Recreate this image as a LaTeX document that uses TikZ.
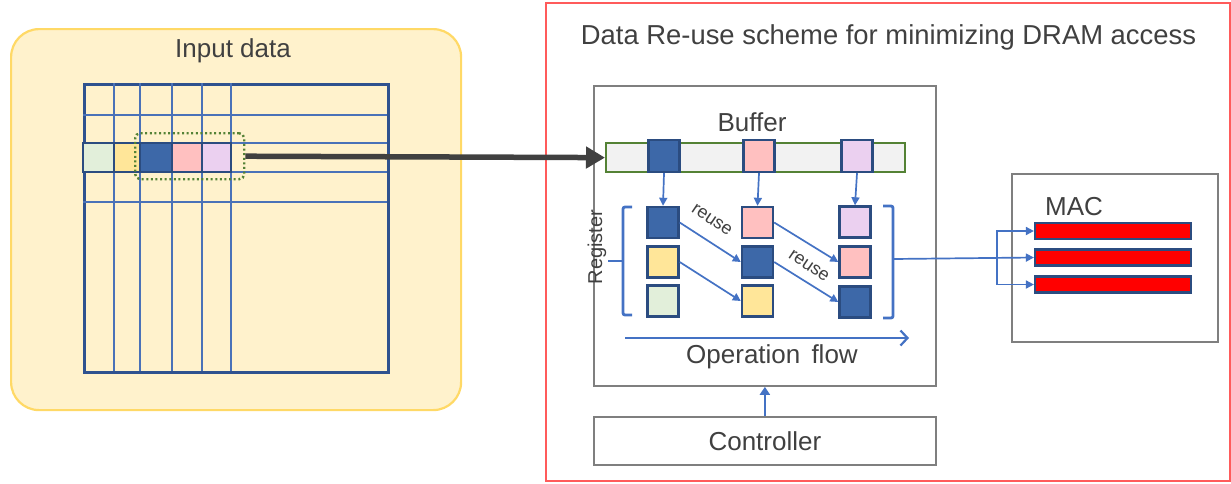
\documentclass[tikz,border=0pt]{standalone}
\usepackage{fontspec}
\setmainfont{Liberation Sans}
\usetikzlibrary{arrows.meta}
\definecolor{inYel}{HTML}{FFF2CC}
\definecolor{inYelB}{HTML}{FFD966}
\definecolor{gridO}{HTML}{2F528F}
\definecolor{gridI}{HTML}{4A72B8}
\definecolor{lineB}{HTML}{4472C4}
\definecolor{cellB}{HTML}{2B4C80}
\definecolor{cBlue}{HTML}{3D68A8}
\definecolor{cPink}{HTML}{FFC0C0}
\definecolor{cLil}{HTML}{EBD0F0}
\definecolor{cYel}{HTML}{FFE699}
\definecolor{cGrn}{HTML}{E2EFDA}
\definecolor{redB}{HTML}{FF5B5B}
\definecolor{grayB}{HTML}{7F7F7F}
\definecolor{bufG}{HTML}{548235}
\definecolor{bufF}{HTML}{F2F2F2}
\definecolor{txt}{HTML}{404040}
\definecolor{bigArr}{HTML}{404040}
\begin{document}
\begin{tikzpicture}[x=1pt,y=-1pt,
  lbl/.style={text=txt,font=\fontsize{26}{30}\selectfont,inner sep=0pt},
  box/.style={draw=grayB,line width=1.8pt,fill=white,anchor=north west,inner sep=0pt},
  cell/.style={draw=cellB,line width=2.4pt,minimum width=31pt,minimum height=31pt,inner sep=0pt},
  bar/.style={draw=cellB,line width=2.2pt,fill=red,minimum width=156pt,minimum height=16pt,inner sep=0pt},
  conn/.style={draw=lineB,line width=1.7pt,-{Triangle[length=8pt,width=8pt]}},
  brk/.style={draw=lineB,line width=2.8pt,rounded corners=2pt},
  reuselbl/.style={text=txt,font=\fontsize{18}{21}\selectfont,inner sep=0pt,rotate=-34}
]
\useasboundingbox (0,0) rectangle (1231,483);

% ---------- Input data ----------
\node[draw=inYelB,fill=inYel,line width=2.2pt,rounded corners=28pt,anchor=north west,
      minimum width=450pt,minimum height=381pt,inner sep=0pt] (inbox) at (10,28) {};
\node[lbl] (intitle) at (233,51) {Input data};

\node[draw=gridO,line width=3pt,anchor=north west,minimum width=304pt,minimum height=288pt,inner sep=0pt] (grid) at (83,83) {};
\foreach \x in {114,140,172,202,231} \draw[gridI,line width=1.4pt] (\x,83) -- (\x,371);
\foreach \y in {115,143,172,202} \draw[gridI,line width=1.4pt] (83,\y) -- (387,\y);

\foreach \a/\b/\c [count=\i] in {83/114/cGrn,114/140/cYel,140/172/cBlue,172/202/cPink,202/231/cLil}
  \draw[draw=cellB,line width=2.8pt,fill=\c] (\a,143) rectangle (\b,172);

\node[draw=bufG,dash pattern=on 2pt off 2.6pt,line width=2.4pt,rounded corners=5pt,anchor=north west,
      minimum width=109pt,minimum height=46pt,inner sep=0pt] (sel) at (134,132) {};

% ---------- Red region ----------
\node[draw=redB,line width=2pt,anchor=north west,minimum width=684pt,minimum height=478pt,inner sep=0pt] (region) at (545,2) {};
\node[text=txt,font=\fontsize{27.4}{31}\selectfont,inner sep=0pt] (rtitle) at (888.5,37) {Data Re-use scheme for minimizing DRAM access};

\node[box,minimum width=342pt,minimum height=300pt] (inner) at (593,85) {};
\node[lbl] (buftitle) at (752,122) {Buffer};
\node[draw=bufG,fill=bufF,line width=2.2pt,anchor=north west,minimum width=299pt,minimum height=29pt,inner sep=0pt] (buf) at (605,142) {};

\node[cell,fill=cBlue,minimum height=32pt] (b1) at (664,156) {};
\node[cell,fill=cPink,minimum height=32pt] (b2) at (759,156) {};
\node[cell,fill=cLil,minimum height=32pt] (b3) at (857,156) {};

% registers
\node[cell,fill=cBlue] (r11) at (663,222.5) {};
\node[cell,fill=cYel]  (r12) at (663,262) {};
\node[cell,fill=cGrn]  (r13) at (663,301) {};
\node[cell,fill=cPink] (r21) at (757.5,222.5) {};
\node[cell,fill=cBlue] (r22) at (757.5,262) {};
\node[cell,fill=cYel]  (r23) at (757.5,301) {};
\node[cell,fill=cLil]  (r31) at (855,222) {};
\node[cell,fill=cPink] (r32) at (855,262) {};
\node[cell,fill=cBlue] (r33) at (855,302) {};

\draw[conn] (b1.south) -- (r11.north);
\draw[conn] (b2.south) -- (r21.north);
\draw[conn] (b3.south) -- (r31.north);

\draw[conn] (r11.east) -- (r22.west);
\draw[conn] (r12.east) -- (r23.west);
\draw[conn] (r21.east) -- (r32.west);
\draw[conn] (r22.east) -- (r33.west);
\node[reuselbl] (reuse1) at (712,220) {reuse};
\node[reuselbl] (reuse2) at (809,266) {reuse};

% brackets
\draw[brk] (632,207) -- (623,207) -- (623,315) -- (632,315);
\draw[brk] (608,261) -- (623,261);
\draw[brk] (883,206) -- (893,206) -- (893,318) -- (883,318);
\coordinate (rb) at (893,259);
\node[text=txt,font=\fontsize{20}{24}\selectfont,inner sep=0pt,rotate=90] (reg) at (597,247) {Register};

% operation flow
\coordinate (of1) at (625,338);
\coordinate (of2) at (909,338);
\draw[draw=lineB,line width=2.2pt,-{Straight Barb[length=7pt,width=15pt,line width=2.2pt]}] (of1) -- (of2);
\node[lbl] (optext) at (772,357) {Operation\hspace{0.15em} flow};

% controller
\node[box,minimum width=342pt,minimum height=48pt] (ctrl) at (593,416) {};
\node[lbl] at (ctrl.center) {Controller};
\draw[draw=lineB,line width=2.8pt,-{Triangle[length=8pt,width=10pt]}] (ctrl.north) -- (inner.south);

% MAC
\node[box,minimum width=206pt,minimum height=168pt] (mac) at (1011,173) {};
\node[lbl] (mactitle) at (1074,207) {MAC};
\node[bar] (m1) at (1113,231) {};
\node[bar] (m2) at (1113,257.5) {};
\node[bar] (m3) at (1113,284.5) {};
\coordinate (split) at (997,258);
\draw[conn] (rb) -- (m2.west);
\draw[conn] (split) |- (m1.west);
\draw[conn] (split) |- (m3.west);

% big arrow
\draw[draw=bigArr,line width=5.5pt,-{Triangle[length=19pt,width=21pt]}] (sel.east) -- (buf.west);
\end{tikzpicture}
\end{document}
